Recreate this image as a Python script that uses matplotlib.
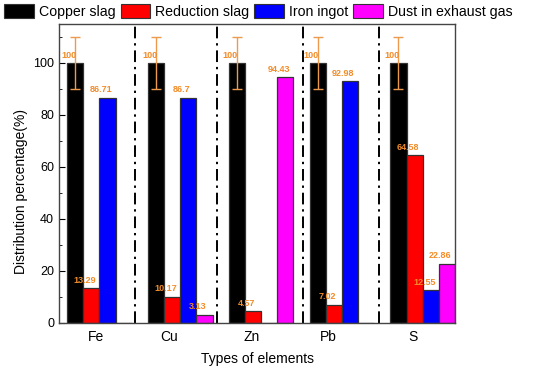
import numpy as np
import matplotlib.pyplot as plt
from matplotlib.patches import Patch

plt.rcParams['font.family'] = ['Liberation Sans', 'DejaVu Sans']

elements = ["Fe", "Cu", "Zn", "Pb", "S"]
series = ["Copper slag", "Reduction slag", "Iron ingot", "Dust in exhaust gas"]
copper_slag = [100, 100, 100, 100, 100]
reduction_slag = [13.29, 10.17, 4.57, 7.02, 64.58]
iron_ingot = [86.71, 86.7, 0, 92.98, 12.55]
dust_gas = [0, 3.13, 94.43, 0, 22.86]
copper_err = [10, 10, 10, 10, 10]
colors = ["#000000", "#FF0000", "#0000FF", "#FF00FF"]

values = [copper_slag, reduction_slag, iron_ingot, dust_gas]
label_color = "#F28C28"

fig = plt.figure(figsize=(5.33, 3.66), dpi=100)
ax = fig.add_axes([0.1107, 0.1175, 0.743, 0.817])

group = np.arange(len(elements)) * 5
for j, vals in enumerate(values):
    x = group + j
    ax.bar(x, vals, width=1.0, color=colors[j], edgecolor="#333333", linewidth=0.9, zorder=2)
    for xi, v in zip(x, vals):
        if v > 0:
            txt = "100" if v == 100 else f"{v:g}"
            ax.annotate(txt, (xi - 0.4, v), xytext=(0, 2.5), textcoords="offset points",
                        ha="center", va="bottom", color=label_color, fontsize=6.5,
                        fontweight="bold", zorder=4)

ax.errorbar(group, copper_slag, yerr=copper_err, fmt="none", ecolor="#EE9A4D",
            elinewidth=1.0, capsize=3.5, capthick=1.0, zorder=3)

# dash-dot separators between element groups
for xd in [3.7, 8.8, 14.1, 18.8]:
    ax.axvline(xd, color="black", linestyle=(0, (6, 2.5, 1.2, 2.5)), linewidth=1.4, zorder=1)

ax.set_xlim(-1, 23.5)
ax.set_ylim(0, 115)
ax.set_yticks(np.arange(0, 101, 20))
ax.set_yticks(np.arange(0, 111, 10), minor=True)
ax.tick_params(axis="y", which="both", direction="in", right=False, labelsize=9)
ax.tick_params(axis="y", which="major", length=4)
ax.tick_params(axis="y", which="minor", length=2.5)
ax.set_xticks([1.3, 5.8, 10.9, 15.65, 20.9])
ax.set_xticklabels(elements, fontsize=10)
ax.tick_params(axis="x", length=0, pad=5)
for s in ax.spines.values():
    s.set_color("#444444")
    s.set_linewidth(1.0)

ax.set_xlabel("Types of elements", fontsize=10, labelpad=6)
ax.set_ylabel("Distribution percentage(%)", fontsize=10)
ax.yaxis.set_label_coords(-0.078, 0.44)

handles = [Patch(facecolor=c, edgecolor="#333333", linewidth=0.8) for c in colors]
fig.legend(handles, series, loc="upper left", bbox_to_anchor=(0.0, 1.0), ncol=4,
           frameon=False, fontsize=10.2, handlelength=2.1, handleheight=1.15,
           handletextpad=0.35, columnspacing=0.35, borderaxespad=0.1, borderpad=0.2)

fig.savefig("out.png", dpi=100)
